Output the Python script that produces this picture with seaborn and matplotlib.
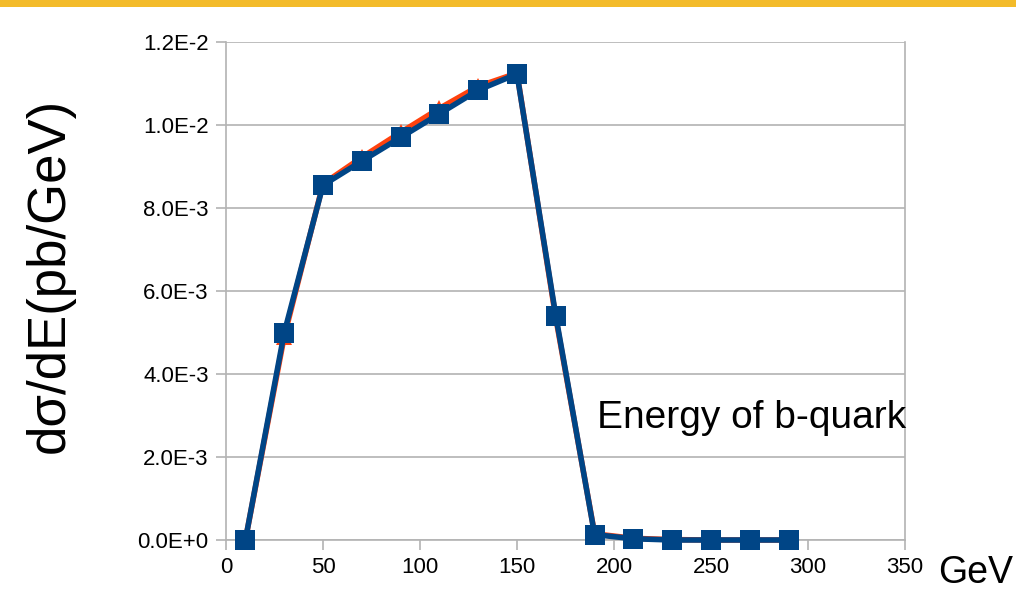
import numpy as np
import pandas as pd
import matplotlib
matplotlib.use("Agg")
import matplotlib.pyplot as plt
import seaborn as sns
from matplotlib.ticker import FuncFormatter

# data
energy = [10, 30, 50, 70, 90, 110, 130, 150, 170, 190, 210, 230, 250, 270, 290]
xsec_blue = [0.0, 4.99e-3, 8.55e-3, 9.13e-3, 9.70e-3, 1.027e-2, 1.084e-2, 1.123e-2,
             5.40e-3, 1.3e-4, 3e-5, 0.0, 0.0, 0.0, 0.0]
xsec_orange = [0.0, 4.90e-3, 8.58e-3, 9.22e-3, 9.82e-3, 1.040e-2, 1.093e-2, 1.125e-2,
               5.35e-3, 1.5e-4, 4e-5, 1e-5, 0.0, 0.0, 0.0]

df = pd.DataFrame({"E": energy * 2,
                   "xsec": xsec_orange + xsec_blue,
                   "series": ["orange"] * len(energy) + ["blue"] * len(energy)})

sns.set_style("white")
plt.rcParams['font.family'] = ['Liberation Sans', 'DejaVu Sans']
plt.rcParams['text.color'] = 'black'

fig = plt.figure(figsize=(10.16, 6.05), dpi=100)
# yellow band on top of slide
band = fig.add_axes([0, 0.988, 1, 0.012])
band.set_facecolor("#f3bb2a")
band.set_xticks([]); band.set_yticks([])
for s in band.spines.values():
    s.set_visible(False)

ax = fig.add_axes([226 / 1016, 1 - 540 / 605, (905 - 226) / 1016, (540 - 42) / 605])

sns.lineplot(data=df[df.series == "orange"], x="E", y="xsec", ax=ax, color="#ff420e",
             marker="^", markersize=12, linewidth=4, markeredgewidth=0, legend=False,
             clip_on=False)
sns.lineplot(data=df[df.series == "blue"], x="E", y="xsec", ax=ax, color="#004586",
             marker="s", markersize=14, linewidth=4, markeredgewidth=0, legend=False,
             clip_on=False, zorder=3)

ax.set_xlim(0, 350)
ax.set_ylim(0, 0.012)
ax.set_xticks(np.arange(0, 351, 50))
ax.set_yticks(np.arange(0, 0.0121, 0.002))
ax.yaxis.set_major_formatter(FuncFormatter(lambda v, p: "0.0E+0" if v == 0 else
                                           "%.1fE%d" % (v / 10 ** np.floor(np.log10(v)), np.floor(np.log10(v)))))
ax.grid(axis="y", color="#b3b3b3", linewidth=1.2)
ax.set_axisbelow(True)
for side in ["left", "right"]:
    ax.spines[side].set_color("#b3b3b3")
    ax.spines[side].set_linewidth(1.2)
ax.spines["top"].set_visible(False)
ax.spines["bottom"].set_color("#b3b3b3")
ax.spines["bottom"].set_linewidth(1.2)
ax.tick_params(axis="both", which="major", length=7.5, width=1.2, color="#b3b3b3",
               labelsize=16, labelcolor="black", direction="out", bottom=True, left=True)
ax.tick_params(axis="x", pad=5)
ax.tick_params(axis="y", pad=5)
ax.set_xlabel("")
ax.set_ylabel("")

fig.text(50 / 1016, 1 - 275 / 605, "dσ/dE(pb/GeV)", rotation=90, fontsize=38,
         ha="center", va="center", color="black")
fig.text(938 / 1016, 1 - 573 / 605, "GeV", fontsize=27, ha="left", va="center", color="black")
fig.text(597 / 1016, 1 - 418 / 605, "Energy of b-quark", fontsize=28, ha="left", va="center",
         color="black")

fig.savefig("out.png", dpi=100)
